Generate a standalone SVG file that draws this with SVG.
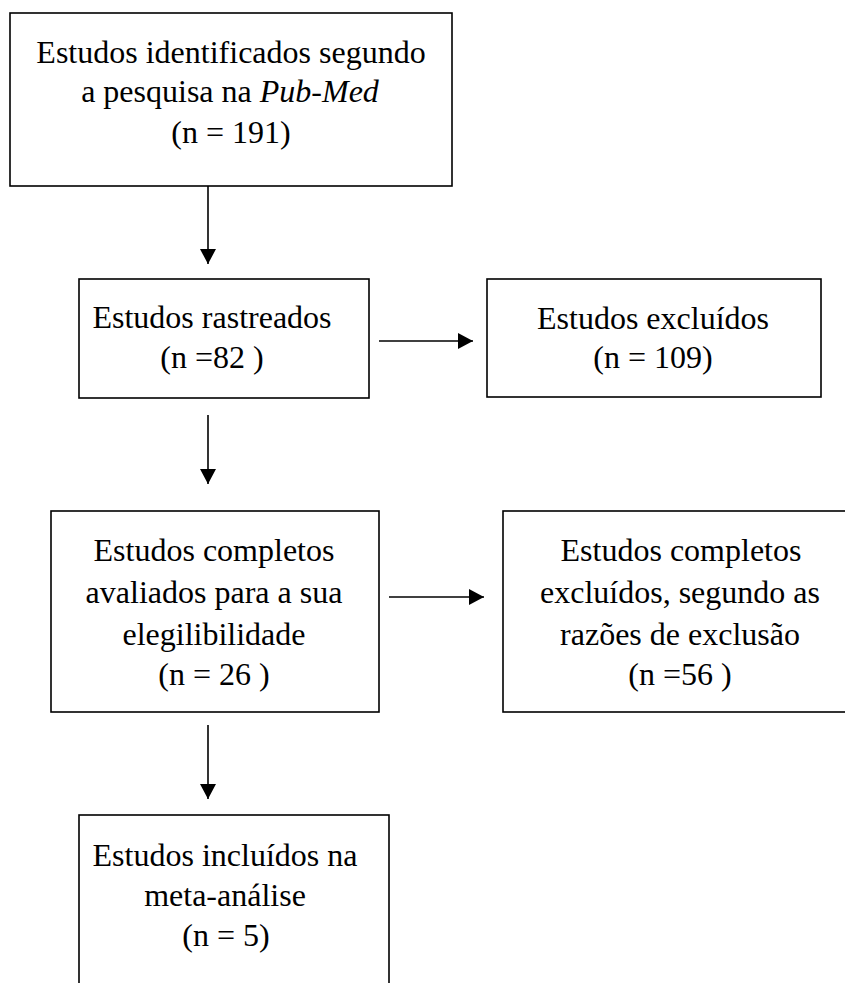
<svg xmlns="http://www.w3.org/2000/svg" width="845" height="983" viewBox="0 0 845 983">
<defs>
<style>
.box{fill:#fff;stroke:#000;stroke-width:1.6}
.t{font-family:"Liberation Serif","Times New Roman",serif;font-size:32px;fill:#000;text-anchor:middle}
.c{stroke:#000;stroke-width:1.6;fill:none;marker-end:url(#ah)}
</style>
<marker id="ah" markerUnits="userSpaceOnUse" markerWidth="16" markerHeight="16" refX="15" refY="8" orient="auto">
<path d="M0,0 L15,8 L0,16 z" fill="#000"/>
</marker>
</defs>
<rect width="845" height="983" fill="#fff"/>
<g id="connectors">
<line class="c" x1="208" y1="186" x2="208" y2="264"/>
<line class="c" x1="379" y1="341" x2="473" y2="341"/>
<line class="c" x1="208" y1="415" x2="208" y2="484"/>
<line class="c" x1="389" y1="597" x2="484" y2="597"/>
<line class="c" x1="208" y1="725" x2="208" y2="799"/>
</g>
<g id="n1">
<rect class="box" x="10" y="13" width="442" height="173"/>
<text class="t" x="231" y="63">Estudos identificados segundo</text>
<text class="t" x="230" y="102">a pesquisa na <tspan font-style="italic">Pub-Med</tspan></text>
<text class="t" x="231" y="143">(n = 191)</text>
</g>
<g id="n2">
<rect class="box" x="79" y="279" width="290" height="119"/>
<text class="t" x="212" y="328">Estudos rastreados</text>
<text class="t" x="212" y="368">(n =82 )</text>
</g>
<g id="n3">
<rect class="box" x="487" y="279" width="334" height="118"/>
<text class="t" x="653" y="329">Estudos excluídos</text>
<text class="t" x="653" y="368">(n = 109)</text>
</g>
<g id="n4">
<rect class="box" x="51" y="511" width="328" height="201"/>
<text class="t" x="214" y="561">Estudos completos</text>
<text class="t" x="214" y="603">avaliados para a sua</text>
<text class="t" x="214" y="645">elegilibilidade</text>
<text class="t" x="214" y="685">(n = 26 )</text>
</g>
<g id="n5">
<rect class="box" x="503" y="511" width="360" height="201"/>
<text class="t" x="681" y="561">Estudos completos</text>
<text class="t" x="680" y="603">excluídos, segundo as</text>
<text class="t" x="680" y="645">razões de exclusão</text>
<text class="t" x="680" y="685">(n =56 )</text>
</g>
<g id="n6">
<rect class="box" x="79" y="815" width="310" height="190"/>
<text class="t" x="225" y="866">Estudos incluídos na</text>
<text class="t" x="225" y="906">meta-análise</text>
<text class="t" x="226" y="946">(n = 5)</text>
</g>
</svg>
